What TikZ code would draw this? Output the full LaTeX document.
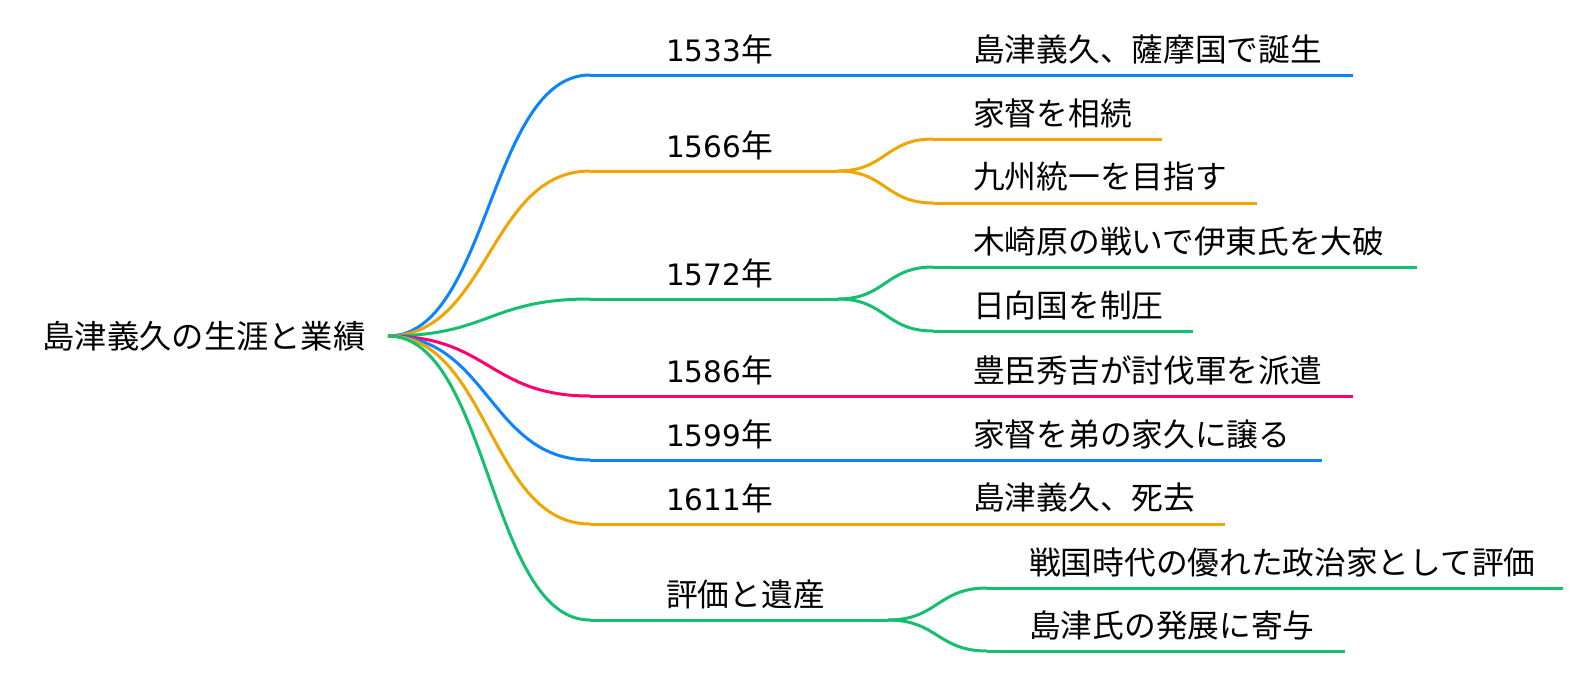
\documentclass[tikz,border=0pt]{standalone}
\usepackage{fontspec}
\setmainfont{Noto Sans CJK JP}
\newfontfamily\digitfont{DejaVu Sans}[Scale=0.93]
\usetikzlibrary{calc}
\definecolor{mmblue}{RGB}{10,132,255}
\definecolor{mmorange}{RGB}{240,165,0}
\definecolor{mmgreen}{RGB}{20,192,110}
\definecolor{mmpink}{RGB}{255,0,110}
\newcommand\mmlink[3]{\draw[edge,#3] let \p1=(#1), \p2=(#2) in (#1) .. controls (0.5*\x1+0.5*\x2,\y1) and (0.5*\x1+0.5*\x2,\y2) .. (#2);}
\newcommand\yr[1]{{\digitfont #1}年}
\tikzset{
  edge/.style={line width=3pt},
  roottxt/.style={inner sep=0pt, anchor=center, font=\fontsize{32.3}{38}\selectfont},
  lbl/.style={inner sep=0pt, anchor=west, font=\fontsize{31.7}{38}\selectfont},
}
\begin{document}
\begin{tikzpicture}[x=1pt,y=-1pt]
\useasboundingbox (0,0) rectangle (1590,672);
% root
\node[roottxt] (root) at (204,336) {島津義久の生涯と業績};
\coordinate (R) at (388,336);
% level 1 coordinates
\coordinate (As) at (590,75);  \coordinate (Ae) at (838,75);
\coordinate (Bs) at (590,171); \coordinate (Be) at (838,171);
\coordinate (Cs) at (590,299); \coordinate (Ce) at (838,299);
\coordinate (Ds) at (590,396); \coordinate (De) at (838,396);
\coordinate (Es) at (590,460); \coordinate (Ee) at (838,460);
\coordinate (Fs) at (590,524); \coordinate (Fe) at (838,524);
\coordinate (Gs) at (590,620); \coordinate (Ge) at (888,620);
% level 2 coordinates
\coordinate (A1s) at (933,75);  \coordinate (A1e) at (1353,75);
\coordinate (B1s) at (933,139); \coordinate (B1e) at (1162,139);
\coordinate (B2s) at (933,203); \coordinate (B2e) at (1257,203);
\coordinate (C1s) at (933,267); \coordinate (C1e) at (1417,267);
\coordinate (C2s) at (933,331); \coordinate (C2e) at (1193,331);
\coordinate (D1s) at (933,396); \coordinate (D1e) at (1353,396);
\coordinate (E1s) at (933,460); \coordinate (E1e) at (1322,460);
\coordinate (F1s) at (933,524); \coordinate (F1e) at (1225,524);
\coordinate (G1s) at (987,588); \coordinate (G1e) at (1563,588);
\coordinate (G2s) at (987,651); \coordinate (G2e) at (1345,651);
% texts
\node[lbl] (tA) at (666,49) {\yr{1533}};
\node[lbl] (tB) at (666,145) {\yr{1566}};
\node[lbl] (tC) at (666,273) {\yr{1572}};
\node[lbl] (tD) at (666,370) {\yr{1586}};
\node[lbl] (tE) at (666,434) {\yr{1599}};
\node[lbl] (tF) at (666,498) {\yr{1611}};
\node[lbl] (tG) at (666,594) {評価と遺産};
\node[lbl] (tA1) at (973,49) {島津義久、薩摩国で誕生};
\node[lbl] (tB1) at (973,113) {家督を相続};
\node[lbl] (tB2) at (973,177) {九州統一を目指す};
\node[lbl] (tC1) at (973,241) {木崎原の戦いで伊東氏を大破};
\node[lbl] (tC2) at (973,305) {日向国を制圧};
\node[lbl] (tD1) at (973,370) {豊臣秀吉が討伐軍を派遣};
\node[lbl] (tE1) at (973,434) {家督を弟の家久に譲る};
\node[lbl] (tF1) at (973,498) {島津義久、死去};
\node[lbl] (tG1) at (1029,562) {戦国時代の優れた政治家として評価};
\node[lbl] (tG2) at (1029,625) {島津氏の発展に寄与};
% branch A
\mmlink{R}{As}{mmblue}
\draw[edge,mmblue] (As) -- (Ae) -- (A1s) -- (A1e);
% branch B
\mmlink{R}{Bs}{mmorange}
\draw[edge,mmorange] (Bs) -- (Be);
\mmlink{Be}{B1s}{mmorange}
\mmlink{Be}{B2s}{mmorange}
\draw[edge,mmorange] (B1s) -- (B1e);
\draw[edge,mmorange] (B2s) -- (B2e);
% branch C
\mmlink{R}{Cs}{mmgreen}
\draw[edge,mmgreen] (Cs) -- (Ce);
\mmlink{Ce}{C1s}{mmgreen}
\mmlink{Ce}{C2s}{mmgreen}
\draw[edge,mmgreen] (C1s) -- (C1e);
\draw[edge,mmgreen] (C2s) -- (C2e);
% branch D
\mmlink{R}{Ds}{mmpink}
\draw[edge,mmpink] (Ds) -- (De) -- (D1s) -- (D1e);
% branch E
\mmlink{R}{Es}{mmblue}
\draw[edge,mmblue] (Es) -- (Ee) -- (E1s) -- (E1e);
% branch F
\mmlink{R}{Fs}{mmorange}
\draw[edge,mmorange] (Fs) -- (Fe) -- (F1s) -- (F1e);
% branch G
\mmlink{R}{Gs}{mmgreen}
\draw[edge,mmgreen] (Gs) -- (Ge);
\mmlink{Ge}{G1s}{mmgreen}
\mmlink{Ge}{G2s}{mmgreen}
\draw[edge,mmgreen] (G1s) -- (G1e);
\draw[edge,mmgreen] (G2s) -- (G2e);
\end{tikzpicture}
\end{document}
